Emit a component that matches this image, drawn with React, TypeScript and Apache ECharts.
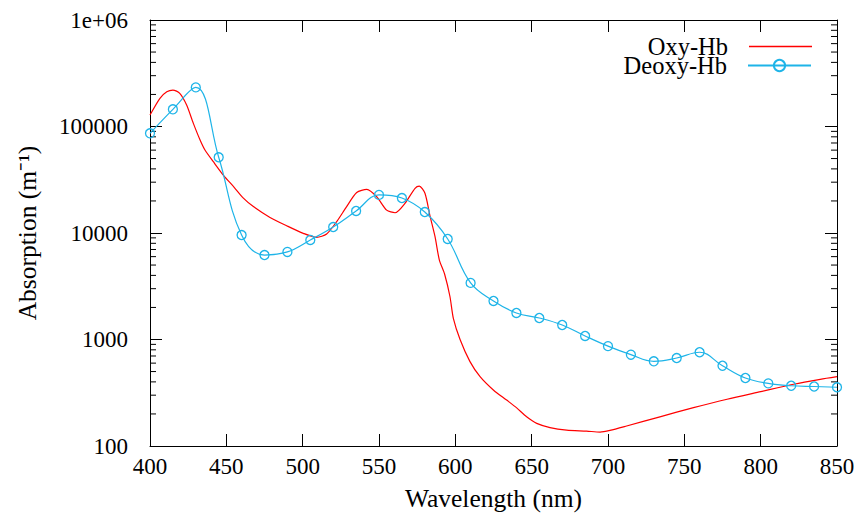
import React, { useEffect, useRef } from "react";
import * as echarts from "echarts";

const oxyWavelength = [400, 406.5, 411, 415, 419.5, 424, 428.4, 432.8, 436, 441.5, 448, 455, 461, 467.7, 478.6, 489.5, 500.4, 509.2, 515.7, 522.3, 528.8, 535.4, 542, 548.5, 555, 560.5, 567, 573.6, 576.4, 580.1, 583.4, 586.7, 589.5, 593, 596.5, 598.7, 603.1, 609.6, 616.2, 624.9, 633.6, 640.2, 646.7, 653.3, 662, 672.9, 686, 694.8, 701.3, 712.2, 734, 756, 778, 800, 821.5, 839, 850];
const oxyAbsorption = [128000, 184000, 212000, 220000, 205000, 159000, 107000, 74700, 60200, 46700, 35000, 27000, 21400, 17700, 14000, 11700, 9930, 9100, 9790, 12800, 17700, 24000, 25700, 21900, 16400, 15500, 19000, 26300, 27600, 23600, 14500, 9230, 5600, 4100, 2520, 1580, 1000, 620, 448, 336, 270, 228, 188, 163, 149, 141, 138, 135, 140, 154, 188, 229, 275, 324, 380, 423, 448];

const deoxyWavelength = [400, 415, 430, 445, 460, 475, 490, 505, 520, 535, 550, 565, 580, 595, 610, 625, 640, 655, 670, 685, 700, 715, 730, 745, 760, 775, 790, 805, 820, 835, 850];
const deoxyAbsorption = [86300, 145000, 233000, 51400, 9570, 6210, 6640, 8600, 11380, 16100, 22800, 21300, 15740, 8790, 3400, 2300, 1775, 1592, 1368, 1079, 866, 720, 624, 670, 759, 567, 435, 387, 368, 362, 356];

const xTicks = [400, 450, 500, 550, 600, 650, 700, 750, 800, 850];
const yDecades = [100, 1000, 10000, 100000, 1000000];

const FONT = "Liberation Serif";
const RED = "#ff0000";
const BLUE = "#1eb4e8";

export default function App() {
  const ref = useRef<HTMLDivElement>(null);
  useEffect(() => {
    const chart = echarts.init(ref.current!, null, { renderer: "svg" });
    const minorValues: number[][] = [];
    for (let d = 0; d < yDecades.length - 1; d++) {
      for (let m = 2; m <= 9; m++) minorValues.push([xTicks[0], yDecades[d] * m]);
    }
    const axisLine = { show: true, lineStyle: { color: "#000", width: 1 } };
    const tick = { show: true, inside: true, length: 12, lineStyle: { color: "#000", width: 1 } };
    const legendText = { fontFamily: FONT, fontSize: 24.5, color: "#000", lineHeight: 19, padding: [0, 16, 0, 0] };
    chart.setOption({
      animation: false,
      backgroundColor: "#fff",
      grid: { left: 150, right: 21, top: 20, bottom: 73, containLabel: false },
      legend: [
        {
          data: [{ name: "Oxy-Hb", icon: "rect" }], right: 41, top: 29, align: "right", orient: "vertical",
          itemWidth: 63, itemHeight: 1.3,
          textStyle: legendText,
        },
        {
          data: ["Deoxy-Hb"], right: 41, top: 48, align: "right", orient: "vertical",
          itemWidth: 63, itemHeight: 14,
          textStyle: legendText,
        },
      ],
      xAxis: [
        {
          type: "value", min: 400, max: 850, interval: 50, position: "bottom",
          axisLine, axisTick: tick, splitLine: { show: false },
          axisLabel: { fontFamily: FONT, fontSize: 23, color: "#000", margin: 9 },
          name: "Wavelength (nm)", nameLocation: "middle", nameGap: 39,
          nameTextStyle: { fontFamily: FONT, fontSize: 25.5, color: "#000" },
        },
        {
          type: "value", min: 400, max: 850, interval: 50, position: "top",
          axisLine, axisTick: tick, splitLine: { show: false }, axisLabel: { show: false },
        },
      ],
      yAxis: [
        {
          type: "log", logBase: 10, min: 100, max: 1000000, position: "left",
          axisLine, axisTick: tick, splitLine: { show: false },
          axisLabel: {
            fontFamily: FONT, fontSize: 23, color: "#000", margin: 22,
            formatter: (v: number) => (v >= 1000000 ? "1e+06" : String(Math.round(v))),
          },
          name: "Absorption (m⁻¹)", nameLocation: "middle", nameGap: 110, nameRotate: 90,
          nameTextStyle: { fontFamily: FONT, fontSize: 25.5, color: "#000" },
        },
        {
          type: "log", logBase: 10, min: 100, max: 1000000, position: "right",
          axisLine, axisTick: tick, splitLine: { show: false }, axisLabel: { show: false },
        },
      ],
      series: [
        {
          name: "Oxy-Hb", type: "line", xAxisIndex: 0, yAxisIndex: 0,
          data: oxyWavelength.map((w, i) => [w, oxyAbsorption[i]]),
          showSymbol: false, symbol: "none", smooth: 0.25,
          lineStyle: { color: RED, width: 1.2 }, itemStyle: { color: RED },
        },
        {
          name: "Deoxy-Hb", type: "line", xAxisIndex: 0, yAxisIndex: 0,
          data: deoxyWavelength.map((w, i) => [w, deoxyAbsorption[i]]),
          symbol: "circle", symbolSize: 9, smooth: 0.4,
          lineStyle: { color: BLUE, width: 1.2 },
          itemStyle: { color: "rgba(255,255,255,0)", borderColor: BLUE, borderWidth: 1.3 },
        },
        {
          type: "custom", xAxisIndex: 0, yAxisIndex: 0, silent: true,
          data: minorValues,
          clip: false,
          renderItem: (params: any, api: any) => {
            const v = api.value(1);
            const l = api.coord([400, v]);
            const r = api.coord([850, v]);
            const st = { stroke: "#000", lineWidth: 1 };
            return {
              type: "group",
              children: [
                { type: "line", shape: { x1: l[0], y1: l[1], x2: l[0] + 6, y2: l[1] }, style: st },
                { type: "line", shape: { x1: r[0] - 6, y1: r[1], x2: r[0], y2: r[1] }, style: st },
              ],
            };
          },
        },
      ],
    });
    return () => chart.dispose();
  }, []);
  return <div ref={ref} style={{ position: "absolute", left: 0, top: 0, width: 858, height: 519 }} />;
}
